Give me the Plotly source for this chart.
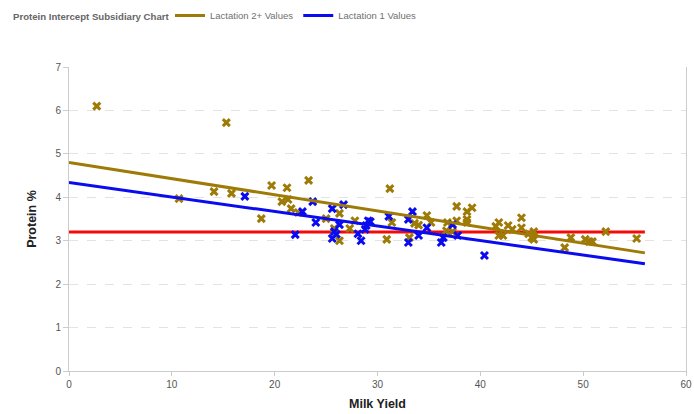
import plotly.graph_objects as go

# Lactation 2+ points
l2_x = [2.7, 15.3, 10.7, 14.1, 15.8, 19.7, 21.2, 23.3, 20.7, 21.3, 21.6, 18.7, 22.3, 25.0, 26.3,
        25.8, 26.3, 27.3, 27.8, 31.2, 31.4, 30.9, 33.6, 34.0, 33.1, 34.8, 35.2, 36.8, 36.7, 37.3,
        37.7, 37.7, 38.7, 39.2, 38.7, 38.7, 41.5, 41.8, 41.8, 42.2, 42.7, 43.1, 44.0, 44.0, 44.7,
        45.2, 45.2, 45.0, 48.2, 48.8, 50.2, 50.6, 50.9, 52.2, 55.2]
l2_y = [6.1, 5.72, 3.97, 4.13, 4.09, 4.27, 4.22, 4.39, 3.9, 3.95, 3.74, 3.51, 3.65, 3.51, 3.63,
        3.28, 3.0, 3.28, 3.46, 4.2, 3.42, 3.03, 3.4, 3.36, 3.07, 3.58, 3.42, 3.42, 3.23, 3.21,
        3.79, 3.46, 3.67, 3.76, 3.49, 3.42, 3.33, 3.42, 3.12, 3.12, 3.35, 3.26, 3.53, 3.3, 3.16,
        3.21, 3.03, 3.07, 2.84, 3.07, 3.03, 2.98, 2.98, 3.21, 3.05]

# Lactation 1 points
l1_x = [17.1, 23.7, 22.7, 24.0, 22.0, 25.6, 26.7, 26.3, 25.8, 25.6, 26.0, 28.1, 28.4, 28.9, 29.1,
        28.8, 29.3, 31.1, 33.4, 33.0, 33.0, 34.0, 34.8, 36.2, 36.4, 37.3, 37.8, 40.4]
l1_y = [4.02, 3.9, 3.67, 3.42, 3.14, 3.74, 3.83, 3.37, 3.21, 3.05, 3.15, 3.16, 3.0, 3.35, 3.46,
        3.26, 3.44, 3.56, 3.67, 3.49, 2.96, 3.12, 3.3, 2.96, 3.07, 3.37, 3.12, 2.66]

# Trend lines
trend_x = [0, 56]
l2_trend_y = [4.8, 2.72]
l1_trend_y = [4.34, 2.47]
intercept_y = [3.2, 3.2]

x_ticks = [0, 10, 20, 30, 40, 50, 60]
y_ticks = [0, 1, 2, 3, 4, 5, 6, 7]

chart_title = "Protein Intercept Subsidiary Chart"

GOLD = "#9E7B06"
BLUE = "#0B0BF0"
RED = "#F50A0A"
FONT = "Liberation Sans"

fig = go.Figure()
fig.add_trace(go.Scatter(x=trend_x, y=intercept_y, mode="lines",
                         line=dict(color=RED, width=3), showlegend=False, hoverinfo="skip"))
fig.add_trace(go.Scatter(x=l2_x, y=l2_y, mode="markers", showlegend=False,
                         marker=dict(symbol="x-thin", size=7, color=GOLD,
                                     line=dict(color=GOLD, width=3))))
fig.add_trace(go.Scatter(x=l1_x, y=l1_y, mode="markers", showlegend=False,
                         marker=dict(symbol="x-thin", size=7, color=BLUE,
                                     line=dict(color=BLUE, width=3))))
fig.add_trace(go.Scatter(x=trend_x, y=l2_trend_y, mode="lines", name="Lactation 2+ Values",
                         line=dict(color=GOLD, width=3)))
fig.add_trace(go.Scatter(x=trend_x, y=l1_trend_y, mode="lines", name="Lactation 1 Values",
                         line=dict(color=BLUE, width=3)))

fig.add_annotation(text="<b>" + chart_title + "</b>", xref="paper", yref="paper",
                   x=-58 / 616, y=1 + 51 / 304, xanchor="left", yanchor="middle",
                   showarrow=False, font=dict(family=FONT, size=9.6, color="#666666"))

fig.update_layout(
    width=694, height=414,
    margin=dict(l=69, r=8, t=67, b=43),
    paper_bgcolor="white", plot_bgcolor="white",
    font=dict(family=FONT, color="#555555", size=10),
    legend=dict(orientation="h", xref="container", yref="container",
                x=170 / 694, y=1 - 1 / 414, xanchor="left", yanchor="top",
                font=dict(family=FONT, size=9.5, color="#707070"), itemwidth=30,
                tracegroupgap=0),
    xaxis=dict(range=[0, 60], tickvals=x_ticks, showgrid=False, zeroline=False,
               showline=True, linecolor="#cccccc", linewidth=1, mirror=False,
               ticks="outside", ticklen=4, tickcolor="#cccccc", automargin=False,
               tickfont=dict(family=FONT, size=10, color="#555555"),
               title=dict(text="<b>Milk Yield</b>",
                          font=dict(family=FONT, size=12.5, color="#222222"),
                          standoff=10)),
    yaxis=dict(range=[0, 7], tickvals=y_ticks, showgrid=True, gridcolor="#e3e3e3",
               griddash="dash", gridwidth=1, zeroline=False,
               showline=True, linecolor="#cccccc", linewidth=1, mirror=True,
               ticks="outside", ticklen=5, tickcolor="#cccccc", automargin=False,
               tickfont=dict(family=FONT, size=10, color="#555555"),
               title=dict(text="<b>Protein %</b>",
                          font=dict(family=FONT, size=12.5, color="#222222"),
                          standoff=16)),
)

fig.write_html("out.html", config={"displayModeBar": False},
               post_script="document.body.style.margin='0';document.body.style.overflow='hidden';")
